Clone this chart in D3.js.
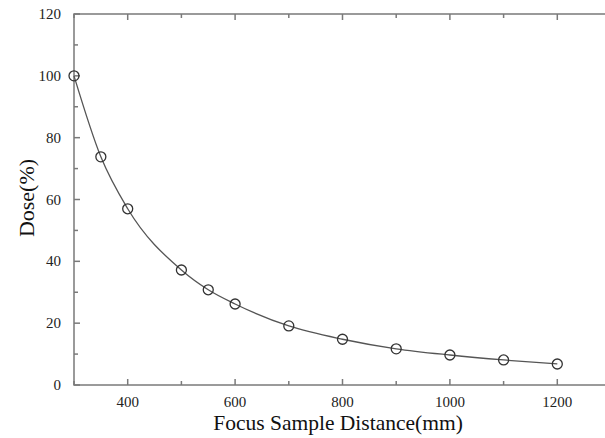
<!DOCTYPE html>
<html>
<head>
<meta charset="utf-8">
<script src="https://cdn.jsdelivr.net/npm/d3@7"></script>
<style>
  body { margin: 0; background: #fff; }
  svg { display: block; font-family: "Liberation Serif", "Times New Roman", serif; }
</style>
</head>
<body>
<div id="chart"></div>
<script>
// distance (mm) vs relative dose (%)
const distances = [300, 350, 400, 500, 550, 600, 700, 800, 900, 1000, 1100, 1200];
const doses = [100, 73.8, 57, 37.2, 30.8, 26.2, 19.1, 14.8, 11.7, 9.7, 8.1, 6.8];
const xTicks = [400, 600, 800, 1000, 1200];
const yTicks = [0, 20, 40, 60, 80, 100, 120];

const width = 605;
const height = 438;
const plotL = 74, plotR = 611, plotT = 14, plotB = 385;

const svg = d3.select("#chart").append("svg")
  .attr("width", width)
  .attr("height", height);

const x = d3.scaleLinear().domain([300, 1300]).range([plotL, plotR]);
const y = d3.scaleLinear().domain([0, 120]).range([plotB, plotT]);

const frameColor = "#7a7a7a";

// minor + major ticks, all pointing inward
const xMinor = d3.range(300, 1301, 100);
const yMinor = d3.range(0, 121, 10);

const g = svg.append("g").attr("stroke", frameColor).attr("stroke-width", 1.5);

xMinor.forEach(v => {
  const len = xTicks.includes(v) ? 6 : 4;
  g.append("line").attr("x1", x(v)).attr("x2", x(v)).attr("y1", plotB).attr("y2", plotB - len);
  g.append("line").attr("x1", x(v)).attr("x2", x(v)).attr("y1", plotT).attr("y2", plotT + len);
});
yMinor.forEach(v => {
  const len = yTicks.includes(v) ? 6 : 4;
  g.append("line").attr("x1", plotL).attr("x2", plotL + len).attr("y1", y(v)).attr("y2", y(v));
  g.append("line").attr("x1", plotR).attr("x2", plotR - len).attr("y1", y(v)).attr("y2", y(v));
});

g.append("rect")
  .attr("x", plotL).attr("y", plotT)
  .attr("width", plotR - plotL).attr("height", plotB - plotT)
  .attr("fill", "none");

// tick labels
svg.append("g").selectAll("text")
  .data(xTicks).join("text")
  .attr("x", d => x(d))
  .attr("y", 407)
  .attr("text-anchor", "middle")
  .attr("font-size", 15)
  .attr("fill", "#222")
  .text(d => d);

svg.append("g").selectAll("text")
  .data(yTicks).join("text")
  .attr("x", 61)
  .attr("y", d => y(d) + 5)
  .attr("text-anchor", "end")
  .attr("font-size", 15)
  .attr("fill", "#222")
  .text(d => d);

// axis titles
svg.append("text")
  .attr("x", 338)
  .attr("y", 430)
  .attr("text-anchor", "middle")
  .attr("font-size", 21.5)
  .attr("fill", "#111")
  .text("Focus Sample Distance(mm)");

svg.append("text")
  .attr("transform", "translate(34,198) rotate(-90)")
  .attr("text-anchor", "middle")
  .attr("font-size", 22)
  .attr("fill", "#111")
  .text("Dose(%)");

// curve through the points
const pts = distances.map((d, i) => ({ d: d, v: doses[i] }));
const line = d3.line()
  .x(p => x(p.d))
  .y(p => y(p.v))
  .curve(d3.curveMonotoneX);

svg.append("path")
  .datum(pts)
  .attr("fill", "none")
  .attr("stroke", "#555")
  .attr("stroke-width", 1.3)
  .attr("d", line);

svg.append("g").selectAll("circle")
  .data(pts).join("circle")
  .attr("cx", p => x(p.d))
  .attr("cy", p => y(p.v))
  .attr("r", 5)
  .attr("fill", "none")
  .attr("stroke", "#333")
  .attr("stroke-width", 1.3);
</script>
</body>
</html>
